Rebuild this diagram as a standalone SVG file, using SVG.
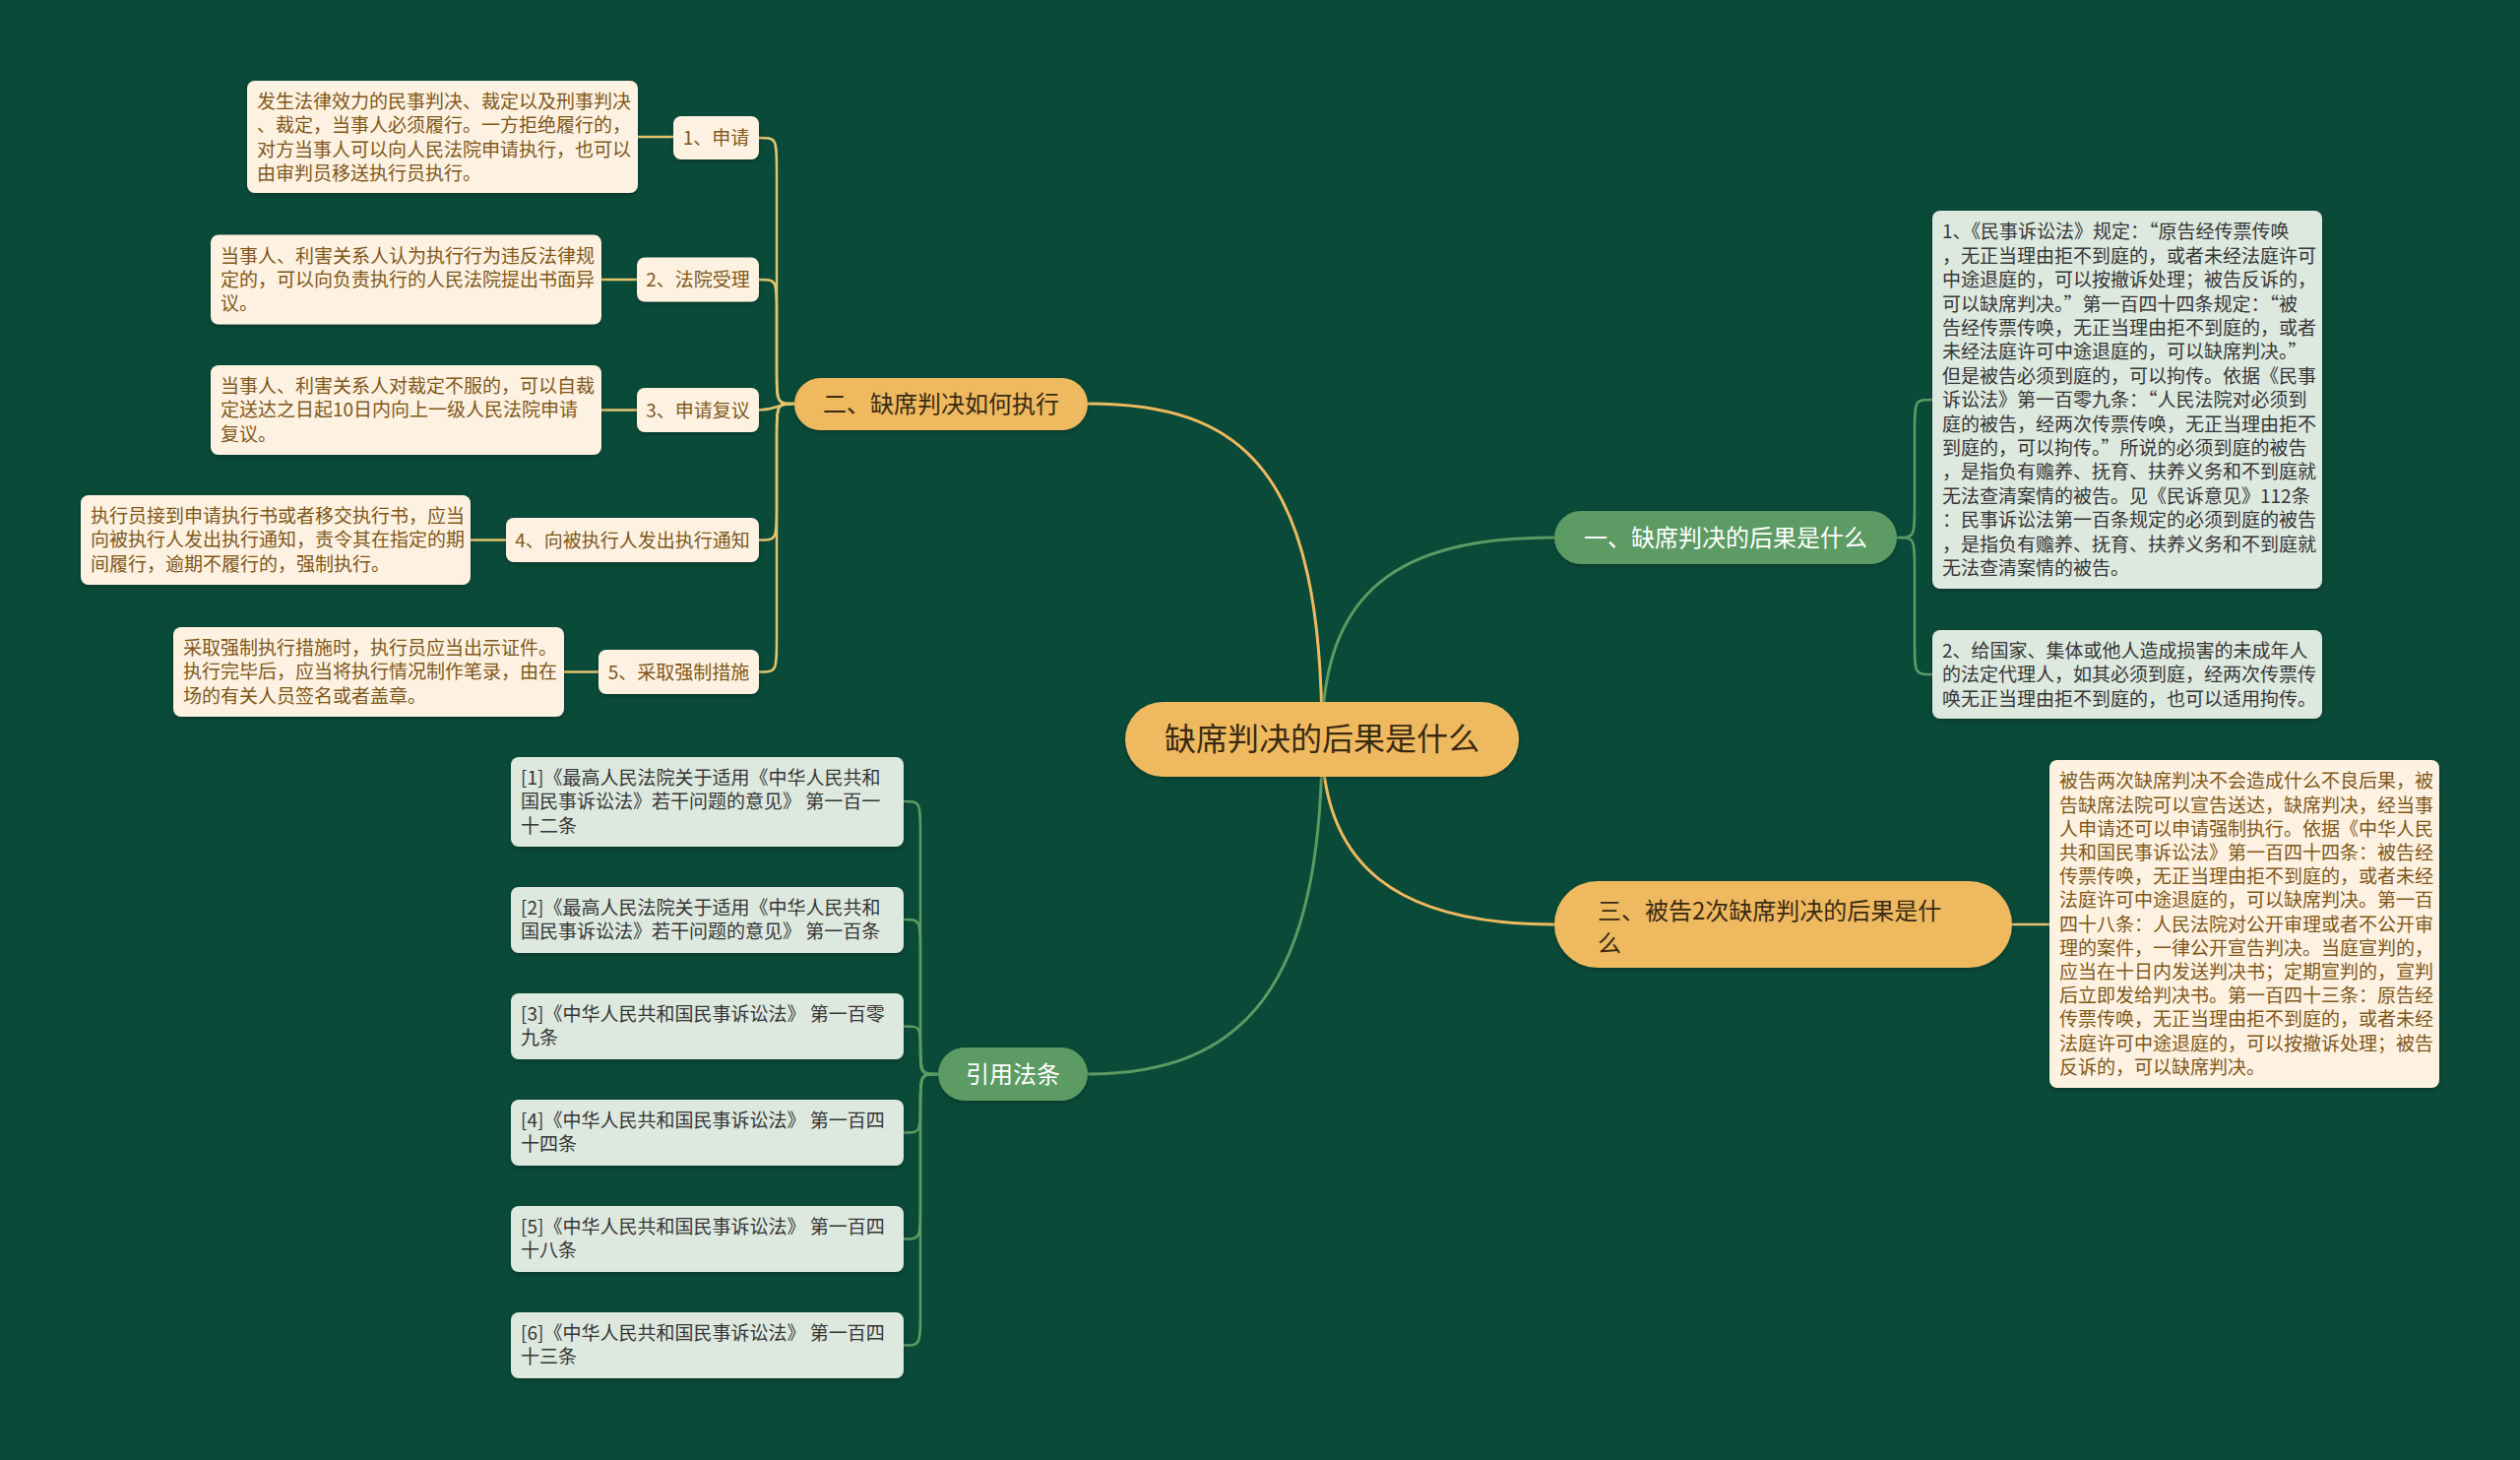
<svg xmlns="http://www.w3.org/2000/svg" width="2560" height="1483" viewBox="0 0 2560 1483">
<defs>
<filter id="sh" x="-5%" y="-5%" width="110%" height="115%"><feDropShadow dx="0" dy="2" stdDeviation="2" flood-color="#000" flood-opacity="0.25"/></filter>
<style>
text{font-family:"Noto Sans CJK SC","Noto Sans",sans-serif;}
.cream{fill:#fdf2e1;filter:url(#sh);}
.gbox{fill:#dde8df;filter:url(#sh);}
.ct{font-size:19px;fill:#80571a;}
.gt{font-size:19px;fill:#363636;}
.fw{font-feature-settings:"fwid" 1;}
.lbl{font-size:19px;fill:#80571a;text-anchor:middle;}
.opill{fill:#efb960;filter:url(#sh);}
.gpill{fill:#5c9b63;filter:url(#sh);}
.bt{font-size:24px;fill:#3a2a12;}
.wt{font-size:24px;fill:#ffffff;text-anchor:middle;}
.lo{fill:none;stroke:#efb960;stroke-width:3;}
.ly{fill:none;stroke:#e3c46e;stroke-width:2.5;}
.lg{fill:none;stroke:#5c9b63;stroke-width:3;}
.lg2{fill:none;stroke:#5c9b63;stroke-width:2.5;}
</style>
</defs>
<rect width="2560" height="1483" fill="#0a4a38"/>

<g id="connectors">
<path class="lo" d="M1105 410 C1265 410 1343 480 1343 751"/>
<path class="lg" d="M1579 546 C1420 546 1343 600 1343 751"/>
<path class="lo" d="M1579 939 C1420 939 1343 880 1343 751"/>
<path class="lg" d="M1105 1091 C1265 1091 1343 1000 1343 751"/>
<path class="ly" d="M807 410 C789 410 789 410 789 375 L789 175 C789 140 789 140 771 140"/>
<path class="ly" d="M807 410 C789 410 789 410 789 375 L789 319 C789 284 789 284 771 284"/>
<path class="ly" d="M807 410 C789 410 789 416.5 771 416.5"/>
<path class="ly" d="M807 410 C789 410 789 410 789 445 L789 513.5 C789 548.5 789 548.5 771 548.5"/>
<path class="ly" d="M807 410 C789 410 789 410 789 445 L789 647.5 C789 682.5 789 682.5 771 682.5"/>
<path class="ly" d="M648 139 L684 139"/>
<path class="ly" d="M611 284 L647 284"/>
<path class="ly" d="M611 416.5 L647 416.5"/>
<path class="ly" d="M478 548.5 L514 548.5"/>
<path class="ly" d="M573 682.5 L608 682.5"/>
<path class="lg2" d="M1927 546 C1945 546 1945 546 1945 511 L1945 441 C1945 406 1945 406 1963 406"/>
<path class="lg2" d="M1927 546 C1945 546 1945 546 1945 581 L1945 650 C1945 685 1945 685 1963 685"/>
<path class="ly" d="M2044 939 L2082 939"/>
<path class="lg2" d="M953 1091 C935 1091 935 1091 935 1056 L935 849 C935 814 935 814 918 814"/>
<path class="lg2" d="M953 1091 C935 1091 935 1091 935 1056 L935 969 C935 934 935 934 918 934"/>
<path class="lg2" d="M953 1091 C935 1091 935 1091 935 1066.75 C935 1042.5 935 1042.5 918 1042.5"/>
<path class="lg2" d="M953 1091 C935 1091 935 1091 935 1120.75 C935 1150.5 935 1150.5 918 1150.5"/>
<path class="lg2" d="M953 1091 C935 1091 935 1091 935 1126 L935 1223.5 C935 1258.5 935 1258.5 918 1258.5"/>
<path class="lg2" d="M953 1091 C935 1091 935 1091 935 1126 L935 1331.5 C935 1366.5 935 1366.5 918 1366.5"/>
</g>

<g id="center">
<rect x="1143" y="713" width="400" height="76" rx="38" class="opill"/>
<text x="1343" y="762" font-size="32" fill="#3a2a12" text-anchor="middle">缺席判决的后果是什么</text>
</g>

<g id="b2">
<rect x="807" y="384" width="298" height="53" rx="26.5" class="opill"/>
<text x="836" y="419" class="bt">二、缺席判决如何执行</text>
</g>

<g id="b2-1">
<rect x="684" y="118" width="87" height="44" rx="8" class="cream"/>
<text x="727.5" y="147" class="lbl">1、申请</text>
</g>
<g id="b2-1d">
<rect x="251" y="82" width="397" height="114" rx="8" class="cream"/>
<text class="ct"><tspan x="261" y="110">发生法律效力的民事判决、裁定以及刑事判决</tspan><tspan x="261" y="134.4">、裁定，当事人必须履行。一方拒绝履行的，</tspan><tspan x="261" y="158.8">对方当事人可以向人民法院申请执行，也可以</tspan><tspan x="261" y="183.2">由审判员移送执行员执行。</tspan></text>
</g>

<g id="b2-2">
<rect x="647" y="261.5" width="124" height="45" rx="8" class="cream"/>
<text x="709" y="291" class="lbl">2、法院受理</text>
</g>
<g id="b2-2d">
<rect x="214" y="238.5" width="397" height="91" rx="8" class="cream"/>
<text class="ct"><tspan x="224" y="266.5">当事人、利害关系人认为执行行为违反法律规</tspan><tspan x="224" y="290.9">定的，可以向负责执行的人民法院提出书面异</tspan><tspan x="224" y="315.3">议。</tspan></text>
</g>

<g id="b2-3">
<rect x="647" y="394" width="124" height="45" rx="8" class="cream"/>
<text x="709" y="423.5" class="lbl">3、申请复议</text>
</g>
<g id="b2-3d">
<rect x="214" y="371" width="397" height="91" rx="8" class="cream"/>
<text class="ct"><tspan x="224" y="399">当事人、利害关系人对裁定不服的，可以自裁</tspan><tspan x="224" y="423.4">定送达之日起10日内向上一级人民法院申请</tspan><tspan x="224" y="447.8">复议。</tspan></text>
</g>

<g id="b2-4">
<rect x="514" y="526" width="257" height="45" rx="8" class="cream"/>
<text x="642.5" y="555.5" class="lbl">4、向被执行人发出执行通知</text>
</g>
<g id="b2-4d">
<rect x="82" y="503" width="396" height="91" rx="8" class="cream"/>
<text class="ct"><tspan x="92" y="531">执行员接到申请执行书或者移交执行书，应当</tspan><tspan x="92" y="555.4">向被执行人发出执行通知，责令其在指定的期</tspan><tspan x="92" y="579.8">间履行，逾期不履行的，强制执行。</tspan></text>
</g>

<g id="b2-5">
<rect x="608" y="660" width="163" height="45" rx="8" class="cream"/>
<text x="689.5" y="689.5" class="lbl">5、采取强制措施</text>
</g>
<g id="b2-5d">
<rect x="176" y="637" width="397" height="91" rx="8" class="cream"/>
<text class="ct"><tspan x="186" y="665">采取强制执行措施时，执行员应当出示证件。</tspan><tspan x="186" y="689.4">执行完毕后，应当将执行情况制作笔录，由在</tspan><tspan x="186" y="713.8">场的有关人员签名或者盖章。</tspan></text>
</g>

<g id="b1">
<rect x="1579" y="519" width="348" height="54" rx="27" class="gpill"/>
<text x="1753" y="554.5" class="wt">一、缺席判决的后果是什么</text>
</g>
<g id="b1-1">
<rect x="1963" y="214" width="396" height="384" rx="8" class="gbox"/>
<text class="gt"><tspan x="1973" y="242.4">1、《民事诉讼法》规定：<tspan class="fw">“</tspan>原告经传票传唤</tspan><tspan x="1973" y="266.8">，无正当理由拒不到庭的，或者未经法庭许可</tspan><tspan x="1973" y="291.2">中途退庭的，可以按撤诉处理；被告反诉的，</tspan><tspan x="1973" y="315.6">可以缺席判决。<tspan class="fw">”</tspan>第一百四十四条规定：<tspan class="fw">“</tspan>被</tspan><tspan x="1973" y="340">告经传票传唤，无正当理由拒不到庭的，或者</tspan><tspan x="1973" y="364.4">未经法庭许可中途退庭的，可以缺席判决。<tspan class="fw">”</tspan></tspan><tspan x="1973" y="388.8">但是被告必须到庭的，可以拘传。依据《民事</tspan><tspan x="1973" y="413.2">诉讼法》第一百零九条：<tspan class="fw">“</tspan>人民法院对必须到</tspan><tspan x="1973" y="437.6">庭的被告，经两次传票传唤，无正当理由拒不</tspan><tspan x="1973" y="462">到庭的，可以拘传。<tspan class="fw">”</tspan>所说的必须到庭的被告</tspan><tspan x="1973" y="486.4">，是指负有赡养、抚育、扶养义务和不到庭就</tspan><tspan x="1973" y="510.8">无法查清案情的被告。见《民诉意见》112条</tspan><tspan x="1973" y="535.2">：民事诉讼法第一百条规定的必须到庭的被告</tspan><tspan x="1973" y="559.6">，是指负有赡养、抚育、扶养义务和不到庭就</tspan><tspan x="1973" y="584">无法查清案情的被告。</tspan></text>
</g>
<g id="b1-2">
<rect x="1963" y="640" width="396" height="90" rx="8" class="gbox"/>
<text class="gt"><tspan x="1973" y="668">2、给国家、集体或他人造成损害的未成年人</tspan><tspan x="1973" y="692.4">的法定代理人，如其必须到庭，经两次传票传</tspan><tspan x="1973" y="716.8">唤无正当理由拒不到庭的，也可以适用拘传。</tspan></text>
</g>

<g id="b3">
<rect x="1579" y="895" width="465" height="88" rx="44" class="opill"/>
<text class="bt"><tspan x="1623" y="933.5">三、被告2次缺席判决的后果是什</tspan><tspan x="1623" y="966.5">么</tspan></text>
</g>
<g id="b3-1">
<rect x="2082" y="772" width="396" height="333" rx="8" class="cream"/>
<text class="ct"><tspan x="2092" y="800.4">被告两次缺席判决不会造成什么不良后果，被</tspan><tspan x="2092" y="824.6">告缺席法院可以宣告送达，缺席判决，经当事</tspan><tspan x="2092" y="848.8">人申请还可以申请强制执行。依据《中华人民</tspan><tspan x="2092" y="873">共和国民事诉讼法》第一百四十四条：被告经</tspan><tspan x="2092" y="897.2">传票传唤，无正当理由拒不到庭的，或者未经</tspan><tspan x="2092" y="921.4">法庭许可中途退庭的，可以缺席判决。第一百</tspan><tspan x="2092" y="945.6">四十八条：人民法院对公开审理或者不公开审</tspan><tspan x="2092" y="969.8">理的案件，一律公开宣告判决。当庭宣判的，</tspan><tspan x="2092" y="994">应当在十日内发送判决书；定期宣判的，宣判</tspan><tspan x="2092" y="1018.2">后立即发给判决书。第一百四十三条：原告经</tspan><tspan x="2092" y="1042.4">传票传唤，无正当理由拒不到庭的，或者未经</tspan><tspan x="2092" y="1066.6">法庭许可中途退庭的，可以按撤诉处理；被告</tspan><tspan x="2092" y="1090.8">反诉的，可以缺席判决。</tspan></text>
</g>

<g id="b4">
<rect x="953" y="1064" width="152" height="54" rx="27" class="gpill"/>
<text x="1029" y="1099.5" class="wt">引用法条</text>
</g>
<g id="r1">
<rect x="519" y="769" width="399" height="91" rx="8" class="gbox"/>
<text class="gt"><tspan x="529" y="797">[1]《最高人民法院关于适用《中华人民共和</tspan><tspan x="529" y="821.4">国民事诉讼法》若干问题的意见》 第一百一</tspan><tspan x="529" y="845.8">十二条</tspan></text>
</g>
<g id="r2">
<rect x="519" y="901" width="399" height="67" rx="8" class="gbox"/>
<text class="gt"><tspan x="529" y="929">[2]《最高人民法院关于适用《中华人民共和</tspan><tspan x="529" y="953.4">国民事诉讼法》若干问题的意见》 第一百条</tspan></text>
</g>
<g id="r3">
<rect x="519" y="1009" width="399" height="67" rx="8" class="gbox"/>
<text class="gt"><tspan x="529" y="1037">[3]《中华人民共和国民事诉讼法》 第一百零</tspan><tspan x="529" y="1061.4">九条</tspan></text>
</g>
<g id="r4">
<rect x="519" y="1117" width="399" height="67" rx="8" class="gbox"/>
<text class="gt"><tspan x="529" y="1145">[4]《中华人民共和国民事诉讼法》 第一百四</tspan><tspan x="529" y="1169.4">十四条</tspan></text>
</g>
<g id="r5">
<rect x="519" y="1225" width="399" height="67" rx="8" class="gbox"/>
<text class="gt"><tspan x="529" y="1253">[5]《中华人民共和国民事诉讼法》 第一百四</tspan><tspan x="529" y="1277.4">十八条</tspan></text>
</g>
<g id="r6">
<rect x="519" y="1333" width="399" height="67" rx="8" class="gbox"/>
<text class="gt"><tspan x="529" y="1361">[6]《中华人民共和国民事诉讼法》 第一百四</tspan><tspan x="529" y="1385.4">十三条</tspan></text>
</g>
</svg>
